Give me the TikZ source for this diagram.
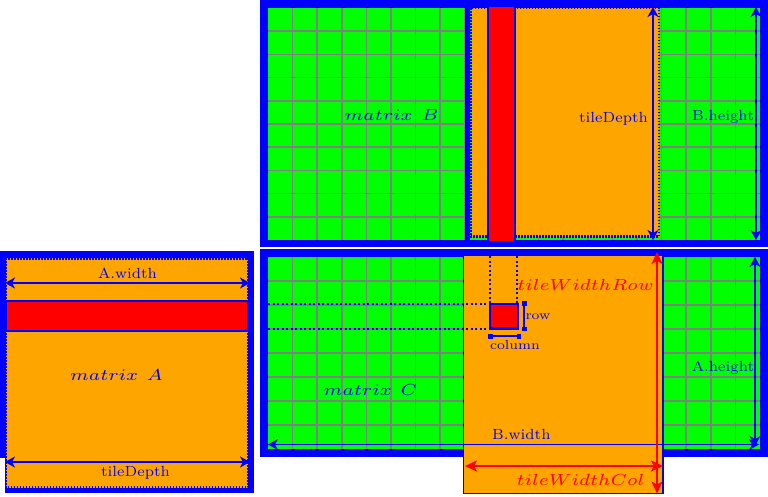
\documentclass[tikz,border=0pt]{standalone}
\usepackage{graphicx}
\usetikzlibrary{arrows.meta}
\definecolor{cblue}{RGB}{0,0,255}
\definecolor{cgreen}{RGB}{0,255,0}
\definecolor{corange}{RGB}{255,165,0}
\definecolor{cred}{RGB}{255,0,0}
\definecolor{cgray}{RGB}{128,128,128}
\newcommand{\rlab}[1]{\scalebox{2.1}[2.1]{\fontsize{7}{8}\selectfont #1}}
\newcommand{\mlab}[1]{\scalebox{2.65}[2.3]{$\scriptstyle #1$}}
\newcommand{\slab}[1]{\scalebox{1.98}[1.85]{\fontsize{7}{8}\selectfont #1}}
\begin{document}
\begin{tikzpicture}[x=1pt,y=-1pt,
  gridline/.style={draw=cgray,line width=1.6pt},
  tiledot/.style={fill=corange,draw=cblue,line width=2.6pt,dash pattern=on 1.5pt off 1.5pt},
  tilesolid/.style={fill=corange,draw=cblue,line width=1.5pt},
  redbar/.style={fill=cred,draw=cblue,line width=2pt},
  dimb/.style={draw=cblue,line width=1.8pt,{Stealth[length=10pt,width=11pt,inset=3pt]}-{Stealth[length=10pt,width=11pt,inset=3pt]}},
  dimr/.style={draw=cred,line width=2pt,{Stealth[length=12pt,width=11pt,inset=3pt]}-{Stealth[length=12pt,width=11pt,inset=3pt]}},
  dims/.style={draw=cblue,line width=2pt,{Square[length=4.5pt,width=5pt]}-{Square[length=4.5pt,width=5pt]}},
  guide/.style={draw=cblue,line width=2pt,dash pattern=on 2pt off 2.5pt},
  rtext/.style={text=cblue,inner sep=0pt,anchor=base},
  mtext/.style={text=cblue,inner sep=0pt,anchor=base},
  redtext/.style={text=cred,inner sep=0pt,anchor=base}
]
\useasboundingbox (0,0) rectangle (768,496);

% ---------------- matrix B ----------------
\fill[cblue] (260,0) rectangle (768,247);
\fill[cgreen] (268,8) rectangle (760,240);
\foreach \i in {1,...,19} \draw[gridline] ({268+24.6*\i},8) -- ({268+24.6*\i},240);
\foreach \j in {1,...,9} \draw[gridline] (268,{8+23.2*\j}) -- (760,{8+23.2*\j});
\fill[cblue] (465,7) rectangle (470,241);
\draw[tiledot] (471,8) rectangle (659,236.7);
\draw[redbar] (488,6) rectangle (515,242);
\coordinate (tdT) at (653,7);
\coordinate (tdB) at (653,240);
\draw[dimb] (tdT) -- (tdB);
\coordinate (bhT) at (756,7);
\coordinate (bhB) at (756,240);
\draw[dimb] (bhT) -- (bhB);
\node[rtext] (lTDb) at (613.5,122) {\rlab{tileDepth}};
\node[rtext] (lBh) at (723,120) {\rlab{B.height}};
\node[mtext] (lB) at (391.5,120) {\mlab{matrix\ B}};

% ---------------- matrix C ----------------
\fill[cblue] (260,249) rectangle (768,457);
\fill[cgreen] (268,257) rectangle (760,449);
\foreach \i in {1,...,19} \draw[gridline] ({268+24.6*\i},257) -- ({268+24.6*\i},449);
\foreach \j in {1,...,7} \draw[gridline] (268,{257+24*\j}) -- (760,{257+24*\j});
\draw[tilesolid] (463.5,255.5) rectangle (663,493.5);
\draw[guide] (268,304) -- (489,304);
\draw[guide] (268,328.5) -- (489,328.5);
\draw[guide] (490,256) -- (490,303);
\draw[guide] (517,256) -- (517,303);
\draw[fill=cred,draw=cblue,line width=2.5pt] (490,304) rectangle (518,328.5);
\coordinate (rowT) at (524,301);
\coordinate (rowB) at (524,331);
\draw[dims] (rowT) -- (rowB);
\coordinate (colL) at (488,336);
\coordinate (colR) at (521,336);
\draw[dims] (colL) -- (colR);
\node[rtext] (lrow) at (538,319) {\slab{row}};
\node[rtext] (lcol) at (515,349) {\slab{column}};
\coordinate (bwL) at (268,444.5);
\coordinate (bwR) at (759,444.5);
\draw[dimb] (bwL) -- (bwR);
\coordinate (ahT) at (755,257);
\coordinate (ahB) at (755,446);
\draw[dimb] (ahT) -- (ahB);
\coordinate (twrT) at (657,252);
\coordinate (twrB) at (657,493.5);
\draw[dimr] (twrT) -- (twrB);
\coordinate (twcL) at (465,466);
\coordinate (twcR) at (663,466);
\draw[dimr] (twcL) -- (twcR);
\node[rtext] (lBw) at (521.4,439) {\rlab{B.width}};
\node[rtext] (lAh) at (723,371.5) {\rlab{A.height}};
\node[redtext] (ltwr) at (585.5,290) {\mlab{tileWidthRow}};
\node[redtext] (ltwc) at (580.5,485) {\mlab{tileWidthCol}};
\node[mtext] (lC) at (370.5,395) {\mlab{matrix\ C}};

% ---------------- matrix A ----------------
\fill[cblue] (0,251) rectangle (254,493);
\fill[white] (0,458) rectangle (4.5,493.5);
\draw[tiledot] (5.8,258.3) rectangle (248,487.5);
\draw[redbar] (6,301) rectangle (248,331);
\coordinate (awL) at (5,283);
\coordinate (awR) at (250,283);
\draw[dimb] (awL) -- (awR);
\coordinate (tdL) at (5,462);
\coordinate (tdR) at (250,462);
\draw[dimb] (tdL) -- (tdR);
\node[rtext] (lAw) at (127.5,278) {\rlab{A.width}};
\node[rtext] (lTDa) at (135.5,476) {\rlab{tileDepth}};
\node[mtext] (lA) at (116.5,380.7) {\mlab{matrix\ A}};
\end{tikzpicture}
\end{document}
